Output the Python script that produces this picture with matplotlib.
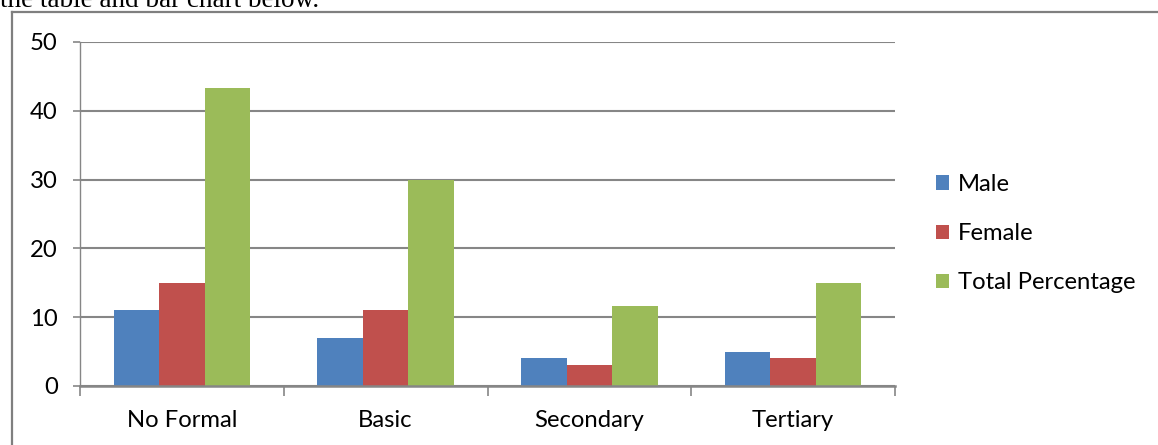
import matplotlib
matplotlib.use("Agg")
import matplotlib.pyplot as plt
import numpy as np
from matplotlib.lines import Line2D

categories = ["No Formal", "Basic", "Secondary", "Tertiary"]
male = [11, 7, 4, 5]
female = [15, 11, 3, 4]
total = [43.3, 30, 11.6, 15]
series_names = ["Male", "Female", "Total Percentage"]
yticks = [0, 10, 20, 30, 40, 50]

colors = ["#4F81BD", "#C0504D", "#9BBB59"]
grid_c = "#868686"

W, H = 1158, 445
fig = plt.figure(figsize=(W / 100, H / 100), dpi=100)
ax = fig.add_axes([80 / W, 1 - 386 / H, (895 - 80) / W, (386 - 42) / H])

font = "Lato"
fs = 17.2

x = np.arange(len(categories))
bw = 0.223
for i, (vals, c, name) in enumerate(zip([male, female, total], colors, series_names)):
    ax.bar(x + (i - 1) * bw, vals, width=bw, color=c, label=name, zorder=3)

ax.set_xlim(-0.5, len(categories) - 0.5)
ax.set_ylim(0, 50)
ax.set_yticks(yticks)
ax.set_yticklabels([str(t) for t in yticks], fontfamily=font, fontsize=fs)
ax.yaxis.grid(True, color=grid_c, linewidth=1.5, zorder=0)
ax.set_axisbelow(True)

ax.set_xticks(x)
ax.set_xticklabels(categories, fontfamily=font, fontsize=fs)
ax.tick_params(axis="x", length=0, pad=17)
ax.set_xticks(np.arange(len(categories) + 1) - 0.5, minor=True)
ax.tick_params(axis="x", which="minor", length=7, width=1.2, color=grid_c, direction="out")
ax.tick_params(axis="y", length=5, width=1.2, color=grid_c, direction="out", pad=11)

for s in ["top", "right"]:
    ax.spines[s].set_visible(False)
ax.spines["left"].set_color(grid_c)
ax.spines["left"].set_linewidth(1.0)
ax.spines["bottom"].set_color(grid_c)
ax.spines["bottom"].set_linewidth(1.8)
ax.spines["bottom"].set_zorder(4)

leg = fig.legend(loc="upper left", bbox_to_anchor=(936 / W, 1 - 174 / H),
                 frameon=False, prop={"family": font, "size": fs},
                 handlelength=0.55, handleheight=0.55, handletextpad=0.35,
                 labelspacing=1.18, borderaxespad=0, borderpad=0)

# page border and text fragment
fig.add_artist(Line2D([12 / W, 12 / W], [0, 1 - 12 / H], color="#7F7F7F", linewidth=1.6,
                      transform=fig.transFigure))
fig.add_artist(Line2D([12 / W, 1], [1 - 12 / H, 1 - 12 / H], color="#7F7F7F", linewidth=1.6,
                      transform=fig.transFigure))
fig.text(0.0, 1 - 7 / H, "the table and bar chart below.", fontfamily="Liberation Serif",
         fontsize=19.5, va="baseline", ha="left")

fig.savefig("out.png", dpi=100)
